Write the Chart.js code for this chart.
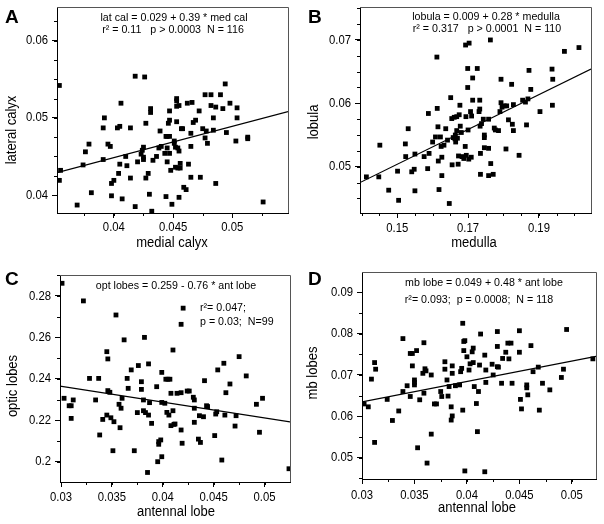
<!DOCTYPE html>
<html>
<head>
<meta charset="utf-8">
<script src="https://cdn.jsdelivr.net/npm/chart.js@4.4.1/dist/chart.umd.min.js"></script>
<style>
  html, body { margin: 0; padding: 0; background: #fff; }
  #figure { position: relative; width: 604px; height: 524px; }
  #figure canvas { position: absolute; left: 0; top: 0; }
</style>
</head>
<body>
<div id="figure"></div>
<script>
// A: medial calyx vs lateral calyx
const aMedialCalyx = [
  0.0354,0.0354,0.0355,0.0369,0.0374,0.0376,0.0379,0.0381,0.0391,0.0391,
  0.0392,0.0395,0.0397,0.0398,0.0398,0.0400,0.0403,0.0404,0.0405,0.0405,
  0.0406,0.0407,0.0410,0.0411,0.0414,0.0414,0.0418,0.0418,0.0420,0.0423,
  0.0424,0.0425,0.0425,0.0425,0.0426,0.0427,0.0427,0.0429,0.0431,0.0431,
  0.0430,0.0432,0.0433,0.0436,0.0438,0.0439,0.0440,0.0443,0.0444,0.0444,
  0.0445,0.0445,0.0445,0.0446,0.0447,0.0447,0.0447,0.0447,0.0448,0.0449,
  0.0451,0.0451,0.0452,0.0452,0.0453,0.0453,0.0453,0.0453,0.0454,0.0454,
  0.0455,0.0455,0.0455,0.0456,0.0456,0.0457,0.0458,0.0459,0.0461,0.0462,
  0.0463,0.0465,0.0465,0.0466,0.0465,0.0467,0.0469,0.0472,0.0473,0.0475,
  0.0477,0.0477,0.0478,0.0479,0.0482,0.0482,0.0484,0.0484,0.0486,0.0486,
  0.0490,0.0492,0.0494,0.0495,0.0498,0.0503,0.0504,0.0504,0.0513,0.0513,
  0.0526
];
const aLateralCalyx = [
  0.0542,0.0419,0.0432,0.0387,0.0439,0.0456,0.0466,0.0403,0.0446,0.0487,
  0.0500,0.0466,0.0463,0.0415,0.0399,0.0419,0.0487,0.0428,0.0440,0.0489,
  0.0519,0.0395,0.0450,0.0438,0.0422,0.0487,0.0554,0.0385,0.0443,0.0453,
  0.0458,0.0462,0.0449,0.0446,0.0553,0.0493,0.0422,0.0428,0.0512,0.0507,
  0.0401,0.0379,0.0445,0.0450,0.0461,0.0483,0.0463,0.0454,0.0476,0.0398,
  0.0461,0.0443,0.0476,0.0493,0.0509,0.0497,0.0476,0.0454,0.0432,0.0388,
  0.0470,0.0467,0.0436,0.0462,0.0525,0.0522,0.0515,0.0495,0.0461,0.0435,
  0.0457,0.0516,0.0397,0.0441,0.0435,0.0486,0.0486,0.0410,0.0407,0.0519,
  0.0440,0.0463,0.0480,0.0520,0.0423,0.0494,0.0497,0.0509,0.0423,0.0486,
  0.0530,0.0474,0.0483,0.0467,0.0530,0.0516,0.0484,0.0500,0.0514,0.0415,
  0.0530,0.0512,0.0544,0.0481,0.0519,0.0470,0.0513,0.0500,0.0475,0.0473,
  0.0391
];
const aFitLine = [[0.0352, 0.0429], [0.0547, 0.0508]];
const aXTicks = [0.04, 0.045, 0.05];
const aYTicks = [0.04, 0.05, 0.06];
const aNote = ["lat cal = 0.029 + 0.39 * med cal", "r² = 0.11   p > 0.0003  N = 116"];

// B: medulla vs lobula
const bMedulla = [
  0.1413,0.1451,0.1448,0.1476,0.1501,0.1504,0.1523,0.1524,0.1531,0.1541,
  0.1548,0.1550,0.1550,0.1576,0.1586,0.1588,0.1590,0.1600,0.1608,0.1613,
  0.1612,0.1615,0.1616,0.1618,0.1622,0.1624,0.1626,0.1626,0.1632,0.1637,
  0.1642,0.1647,0.1651,0.1654,0.1655,0.1658,0.1661,0.1663,0.1664,0.1665,
  0.1668,0.1668,0.1670,0.1672,0.1673,0.1675,0.1677,0.1678,0.1681,0.1683,
  0.1688,0.1692,0.1693,0.1694,0.1695,0.1699,0.1699,0.1700,0.1702,0.1703,
  0.1707,0.1709,0.1710,0.1713,0.1713,0.1726,0.1731,0.1733,0.1733,0.1734,
  0.1735,0.1735,0.1738,0.1743,0.1746,0.1746,0.1746,0.1758,0.1758,0.1758,
  0.1763,0.1764,0.1771,0.1774,0.1777,0.1786,0.1790,0.1793,0.1793,0.1796,
  0.1802,0.1807,0.1809,0.1814,0.1823,0.1825,0.1828,0.1828,0.1844,0.1854,
  0.1862,0.1865,0.1869,0.1872,0.1877,0.1903,0.1937,0.1939,0.1938,0.1972,
  0.2013
];
const bLobula = [
  0.0484,0.0534,0.0484,0.0463,0.0493,0.0447,0.0536,0.0516,0.0560,0.0492,
  0.0496,0.0520,0.0462,0.0516,0.0497,0.0584,0.0521,0.0539,0.0547,0.0592,
  0.0673,0.0563,0.0509,0.0464,0.0547,0.0532,0.0515,0.0486,0.0534,0.0560,
  0.0542,0.0442,0.0609,0.0576,0.0503,0.0546,0.0578,0.0544,0.0550,0.0539,
  0.0579,0.0557,0.0545,0.0504,0.0517,0.0582,0.0597,0.0564,0.0554,0.0516,
  0.0513,0.0532,0.0692,0.0579,0.0518,0.0625,0.0655,0.0558,0.0512,0.0695,
  0.0587,0.0515,0.0580,0.0640,0.0605,0.0655,0.0587,0.0605,0.0591,0.0564,
  0.0521,0.0488,0.0568,0.0575,0.0550,0.0546,0.0530,0.0575,0.0529,0.0486,
  0.0700,0.0505,0.0488,0.0561,0.0558,0.0557,0.0587,0.0638,0.0601,0.0594,
  0.0596,0.0528,0.0596,0.0574,0.0630,0.0567,0.0598,0.0557,0.0518,0.0605,
  0.0602,0.0566,0.0607,0.0652,0.0622,0.0587,0.0654,0.0638,0.0597,0.0682,
  0.0688
];
const bFitLine = [[0.1395, 0.0475], [0.2047, 0.0654]];
const bXTicks = [0.15, 0.17, 0.19];
const bYTicks = [0.05, 0.06, 0.07];
const bNote = ["lobula = 0.009 + 0.28 * medulla", "r² = 0.317   p > 0.0001  N = 110"];

// C: antennal lobe vs optic lobes
const cAntennalLobe = [
  0.0301,0.0303,0.0308,0.0310,0.0310,0.0312,0.0322,0.0328,0.0334,0.0337,
  0.0338,0.0341,0.0345,0.0345,0.0346,0.0346,0.0348,0.0349,0.0351,0.0352,
  0.0354,0.0357,0.0358,0.0359,0.0360,0.0362,0.0365,0.0366,0.0369,0.0372,
  0.0375,0.0376,0.0379,0.0379,0.0381,0.0381,0.0382,0.0383,0.0385,0.0386,
  0.0386,0.0387,0.0389,0.0394,0.0395,0.0396,0.0396,0.0398,0.0399,0.0399,
  0.0399,0.0402,0.0403,0.0404,0.0405,0.0406,0.0407,0.0408,0.0408,0.0410,
  0.0410,0.0411,0.0412,0.0414,0.0418,0.0418,0.0418,0.0419,0.0420,0.0424,
  0.0426,0.0430,0.0431,0.0431,0.0431,0.0435,0.0436,0.0437,0.0440,0.0441,
  0.0443,0.0444,0.0451,0.0452,0.0453,0.0454,0.0458,0.0460,0.0461,0.0462,
  0.0466,0.0471,0.0472,0.0475,0.0482,0.0492,0.0495,0.0498,0.0524
];
const cOpticLobes = [
  0.2861,0.2306,0.2270,0.2270,0.2209,0.2298,0.2776,0.2402,0.2298,0.2402,
  0.2129,0.2204,0.2225,0.2531,0.2496,0.2343,0.2335,0.2212,0.2053,0.2193,
  0.2708,0.2277,0.2164,0.2258,0.2306,0.2588,0.2402,0.2354,0.2443,0.2053,
  0.2237,0.2464,0.2386,0.2349,0.2298,0.2246,0.2600,0.2237,0.1948,0.2225,
  0.2472,0.2285,0.2185,0.2362,0.2000,0.2097,0.2084,0.2105,0.2024,0.2431,
  0.2286,0.2282,0.2398,0.2238,0.2398,0.2225,0.2398,0.2330,0.2174,0.2539,
  0.2246,0.2180,0.2182,0.2330,0.2333,0.2663,0.2153,0.2089,0.2741,0.2341,
  0.2341,0.2311,0.2298,0.2258,0.2190,0.2109,0.2222,0.2093,0.2217,0.2391,
  0.2270,0.2266,0.2126,0.2230,0.2241,0.2443,0.2008,0.2475,0.2225,0.2333,
  0.2375,0.2172,0.2222,0.2507,0.2414,0.2277,0.2142,0.2306,0.1966
];
const cFitLine = [[0.0299, 0.2365], [0.0525, 0.2192]];
const cXTicks = [0.03, 0.035, 0.04, 0.045, 0.05];
const cYTicks = [0.2, 0.22, 0.24, 0.26, 0.28];
const cNote = ["opt lobes = 0.259 - 0.76 * ant lobe", "r²= 0.047;", "p = 0.03;  N=99"];

// D: antennal lobe vs mb lobes
const dAntennalLobe = [
  0.0302,0.0306,0.0309,0.0312,0.0313,0.0312,0.0324,0.0329,0.0335,0.0339,
  0.0339,0.0343,0.0346,0.0346,0.0348,0.0348,0.0350,0.0350,0.0350,0.0352,
  0.0353,0.0355,0.0358,0.0359,0.0359,0.0360,0.0361,0.0362,0.0366,0.0366,
  0.0369,0.0371,0.0375,0.0376,0.0379,0.0379,0.0381,0.0382,0.0383,0.0385,
  0.0385,0.0386,0.0386,0.0386,0.0389,0.0393,0.0394,0.0395,0.0396,0.0396,
  0.0397,0.0397,0.0398,0.0398,0.0400,0.0402,0.0403,0.0405,0.0406,0.0406,
  0.0407,0.0409,0.0410,0.0411,0.0412,0.0413,0.0417,0.0417,0.0418,0.0418,
  0.0424,0.0425,0.0429,0.0429,0.0429,0.0430,0.0433,0.0434,0.0437,0.0439,
  0.0440,0.0442,0.0443,0.0450,0.0450,0.0451,0.0452,0.0457,0.0457,0.0458,
  0.0461,0.0463,0.0468,0.0469,0.0472,0.0479,0.0490,0.0492,0.0495,0.0520
];
const dMbLobes = [
  0.0630,0.0623,0.0690,0.0730,0.0714,0.0537,0.0641,0.0590,0.0613,0.0660,
  0.0788,0.0674,0.0752,0.0648,0.0722,0.0752,0.0688,0.0682,0.0676,0.0759,
  0.0524,0.0640,0.0704,0.0656,0.0778,0.0715,0.0710,0.0487,0.0700,0.0557,
  0.0630,0.0630,0.0660,0.0648,0.0732,0.0714,0.0688,0.0649,0.0672,0.0623,
  0.0591,0.0601,0.0722,0.0704,0.0674,0.0676,0.0708,0.0716,0.0825,0.0615,
  0.0781,0.0759,0.0783,0.0468,0.0744,0.0712,0.0727,0.0756,0.0730,0.0765,
  0.0672,0.0631,0.0563,0.0660,0.0724,0.0799,0.0748,0.0466,0.0712,0.0682,
  0.0726,0.0700,0.0720,0.0805,0.0769,0.0719,0.0680,0.0740,0.0755,0.0777,
  0.0739,0.0777,0.0680,0.0807,0.0755,0.0641,0.0618,0.0669,0.0676,0.0652,
  0.0771,0.0708,0.0719,0.0615,0.0680,0.0664,0.0694,0.0714,0.0810,0.0739
];
const dFitLine = [[0.03, 0.0635], [0.0523, 0.0745]];
const dXTicks = [0.03, 0.035, 0.04, 0.045, 0.05];
const dYTicks = [0.05, 0.06, 0.07, 0.08, 0.09];
const dNote = ["mb lobe = 0.049 + 0.48 * ant lobe", "r²= 0.093;  p = 0.0008;  N = 118"];

const SANS = '"Liberation Sans", Arial, sans-serif';
const W = 604, H = 524;
const Y_AXIS_W = 50;
const X_AXIS_H = 30;

const panels = [
  {
    letter: "A", letterAt: [5, 23], xs: aMedialCalyx, ys: aLateralCalyx, fit: aFitLine,
    area: { left: 57, top: 7, right: 288, bottom: 213 }, xLabelDy: 14,
    x: { min: 0.0352, max: 0.0547, ticks: aXTicks, minor: 0.0025, title: "medial calyx", at: [172, 243] },
    y: { min: 0.03767, max: 0.06437, ticks: aYTicks, minor: 0.0025, title: "lateral calyx", at: [12, 130] },
    notes: [
      { text: aNote[0], x: 174, y: 18, align: "center" },
      { text: aNote[1], x: 173, y: 30, align: "center" }
    ]
  },
  {
    letter: "B", letterAt: [308, 23], xs: bMedulla, ys: bLobula, fit: bFitLine,
    area: { left: 360, top: 7, right: 591, bottom: 213 }, xLabelDy: 15,
    x: { min: 0.1395, max: 0.2047, ticks: bXTicks, minor: 0.005, title: "medulla", at: [474, 243] },
    y: { min: 0.0427, max: 0.0752, ticks: bYTicks, minor: 0.0025, title: "lobula", at: [314, 122] },
    notes: [
      { text: bNote[0], x: 486, y: 17, align: "center" },
      { text: bNote[1], x: 487, y: 29, align: "center" }
    ]
  },
  {
    letter: "C", letterAt: [5, 285], xs: cAntennalLobe, ys: cOpticLobes, fit: cFitLine,
    area: { left: 60, top: 275, right: 290, bottom: 482 }, xLabelDy: 15,
    x: { min: 0.0299, max: 0.0525, ticks: cXTicks, minor: 0.0025, title: "antennal lobe", at: [176, 512] },
    y: { min: 0.1902, max: 0.2901, ticks: cYTicks, minor: 0.01, title: "optic lobes", at: [13, 386] },
    notes: [
      { text: cNote[0], x: 176, y: 286, align: "center" },
      { text: cNote[1], x: 200, y: 308, align: "left" },
      { text: cNote[2], x: 200, y: 322, align: "left" }
    ]
  },
  {
    letter: "D", letterAt: [308, 285], xs: dAntennalLobe, ys: dMbLobes, fit: dFitLine,
    area: { left: 362, top: 272, right: 596, bottom: 479 }, xLabelDy: 16,
    x: { min: 0.03, max: 0.0523, ticks: dXTicks, minor: 0.0025, title: "antennal lobe", at: [477, 508] },
    y: { min: 0.04485, max: 0.0949, ticks: dYTicks, minor: 0.005, title: "mb lobes", at: [313, 373] },
    notes: [
      { text: dNote[0], x: 484, y: 283, align: "center" },
      { text: dNote[1], x: 479, y: 300, align: "center" }
    ]
  }
];

// the figure's lettering is slightly condensed, so squeeze it horizontally
function squeezedText(ctx, text, x, y, size, squeeze, align, angle) {
  ctx.save();
  ctx.translate(x, y);
  if (angle) ctx.rotate(angle);
  ctx.scale(squeeze, 1);
  ctx.font = size + "px " + SANS;
  ctx.textAlign = align;
  ctx.textBaseline = "middle";
  ctx.fillText(text, 0, 0);
  ctx.restore();
}

// minor ticks, tick labels, top/right frame and the free text of a panel
const panelDecor = {
  id: "panelDecor",
  afterDraw(chart) {
    const p = chart.options.plugins.panelDecor.panel;
    const { ctx, chartArea: a, scales } = chart;
    ctx.save();
    ctx.strokeStyle = "#000";
    ctx.lineWidth = 1;
    ctx.beginPath();
    for (let v = Math.ceil(scales.x.min / p.x.minor) * p.x.minor; v <= scales.x.max; v += p.x.minor) {
      const px = Math.round(scales.x.getPixelForValue(v)) + 0.5;
      ctx.moveTo(px, a.bottom);
      ctx.lineTo(px, a.bottom + 3);
    }
    for (let v = Math.ceil(scales.y.min / p.y.minor) * p.y.minor; v <= scales.y.max; v += p.y.minor) {
      const py = Math.round(scales.y.getPixelForValue(v)) + 0.5;
      ctx.moveTo(a.left, py);
      ctx.lineTo(a.left - 3, py);
    }
    ctx.stroke();

    ctx.strokeStyle = "#555";
    ctx.beginPath();
    ctx.moveTo(a.left, Math.round(a.top) + 0.5);
    ctx.lineTo(Math.round(a.right) + 0.5, Math.round(a.top) + 0.5);
    ctx.lineTo(Math.round(a.right) + 0.5, a.bottom);
    ctx.stroke();

    ctx.fillStyle = "#000";
    p.x.ticks.forEach(v => {
      squeezedText(ctx, String(v), scales.x.getPixelForValue(v), a.bottom + p.xLabelDy, 13, 0.87, "center");
    });
    p.y.ticks.forEach(v => {
      squeezedText(ctx, String(v), a.left - 9, scales.y.getPixelForValue(v), 13, 0.87, "right");
    });

    ctx.font = "bold 19px " + SANS;
    ctx.textAlign = "left";
    ctx.textBaseline = "alphabetic";
    ctx.fillText(p.letter, p.letterAt[0], p.letterAt[1]);

    p.notes.forEach(n => squeezedText(ctx, n.text, n.x, n.y, 11, 0.97, n.align));

    squeezedText(ctx, p.x.title, p.x.at[0], p.x.at[1], 14, 0.93, "center");
    squeezedText(ctx, p.y.title, p.y.at[0], p.y.at[1], 14, 0.93, "center", -Math.PI / 2);
    ctx.restore();
  }
};

function axisOptions(ax, isX) {
  return {
    type: "linear",
    min: ax.min,
    max: ax.max,
    afterBuildTicks: s => { s.ticks = ax.ticks.map(v => ({ value: v })); },
    afterFit: s => {
      if (isX) s.height = X_AXIS_H; else s.width = Y_AXIS_W;
    },
    ticks: { display: false },
    grid: {
      drawOnChartArea: false,
      drawTicks: true,
      tickLength: 5,
      tickColor: "#000",
      color: "#000"
    },
    border: { display: true, color: "#000", width: 1 }
  };
}

function makeChart(p) {
  const canvas = document.createElement("canvas");
  canvas.width = W;
  canvas.height = H;
  document.getElementById("figure").appendChild(canvas);

  const points = p.xs.map((x, i) => ({ x, y: p.ys[i] }));
  const fit = p.fit.map(pt => ({ x: pt[0], y: pt[1] }));

  new Chart(canvas, {
    type: "scatter",
    data: {
      datasets: [
        {
          data: fit,
          showLine: true,
          borderColor: "#000",
          borderWidth: 1.2,
          pointRadius: 0
        },
        {
          data: points,
          pointStyle: "rect",
          pointRadius: 3.4,
          backgroundColor: "#000",
          borderWidth: 0
        }
      ]
    },
    options: {
      responsive: false,
      animation: false,
      layout: {
        padding: {
          left: p.area.left - Y_AXIS_W,
          top: p.area.top,
          right: W - p.area.right,
          bottom: H - p.area.bottom - X_AXIS_H
        }
      },
      scales: {
        x: axisOptions(p.x, true),
        y: axisOptions(p.y, false)
      },
      plugins: {
        legend: { display: false },
        tooltip: { enabled: false },
        panelDecor: { panel: p }
      }
    },
    plugins: [panelDecor]
  });
}

panels.forEach(makeChart);
</script>
</body>
</html>
